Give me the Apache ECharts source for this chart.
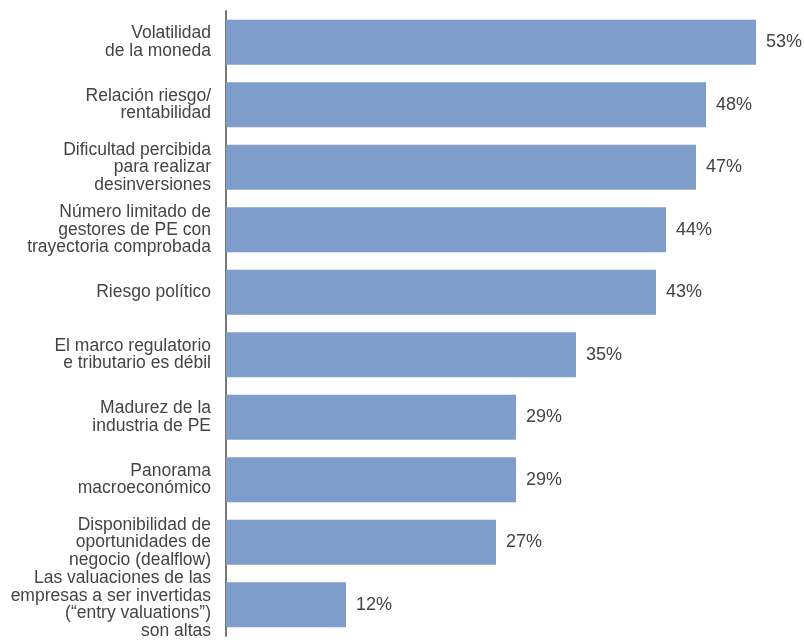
<!DOCTYPE html>
<html>
<head>
<meta charset="utf-8">
<script src="https://cdn.jsdelivr.net/npm/echarts@6/dist/echarts.min.js"></script>
<style>
  html, body { margin: 0; padding: 0; background: #ffffff; }
  #chart { width: 804px; height: 643px; }
</style>
</head>
<body>
<div id="chart"></div>
<script>
// Obstacles to private equity investment, share of respondents (%)
const categories = [
  'Volatilidad\nde la moneda',
  'Relación riesgo/\nrentabilidad',
  'Dificultad percibida\npara realizar\ndesinversiones',
  'Número limitado de\ngestores de PE con\ntrayectoria comprobada',
  'Riesgo político',
  'El marco regulatorio\ne tributario es débil',
  'Madurez de la\nindustria de PE',
  'Panorama\nmacroeconómico',
  'Disponibilidad de\noportunidades de\nnegocio (dealflow)',
  'Las valuaciones de las\nempresas a ser invertidas\n(“entry valuations”)\nson altas'
];
const values = [53, 48, 47, 44, 43, 35, 29, 29, 27, 12];

const chart = echarts.init(document.getElementById('chart'), null, { renderer: 'canvas' });
const textFont = 'Liberation Sans, Arial, sans-serif';

chart.setOption({
  animation: false,
  backgroundColor: '#ffffff',
  grid: { left: 226, right: 0, top: 11, bottom: 7, containLabel: false },
  xAxis: {
    type: 'value',
    min: 0,
    max: 57.8,
    show: false
  },
  yAxis: {
    type: 'category',
    data: categories,
    inverse: true,
    axisLine: { show: true, lineStyle: { color: '#777777', width: 2 } },
    axisTick: { show: false },
    axisLabel: {
      interval: 0,
      hideOverlap: false,
      margin: 15,
      color: '#444444',
      fontFamily: textFont,
      fontSize: 17.5,
      lineHeight: 17.5,
      align: 'right'
    }
  },
  series: [{
    type: 'bar',
    data: values,
    barWidth: 45,
    itemStyle: { color: '#7f9dca' },
    label: {
      show: true,
      position: 'right',
      distance: 10,
      formatter: '{c}%',
      color: '#444444',
      fontFamily: textFont,
      fontSize: 18
    }
  }]
});
</script>
</body>
</html>
